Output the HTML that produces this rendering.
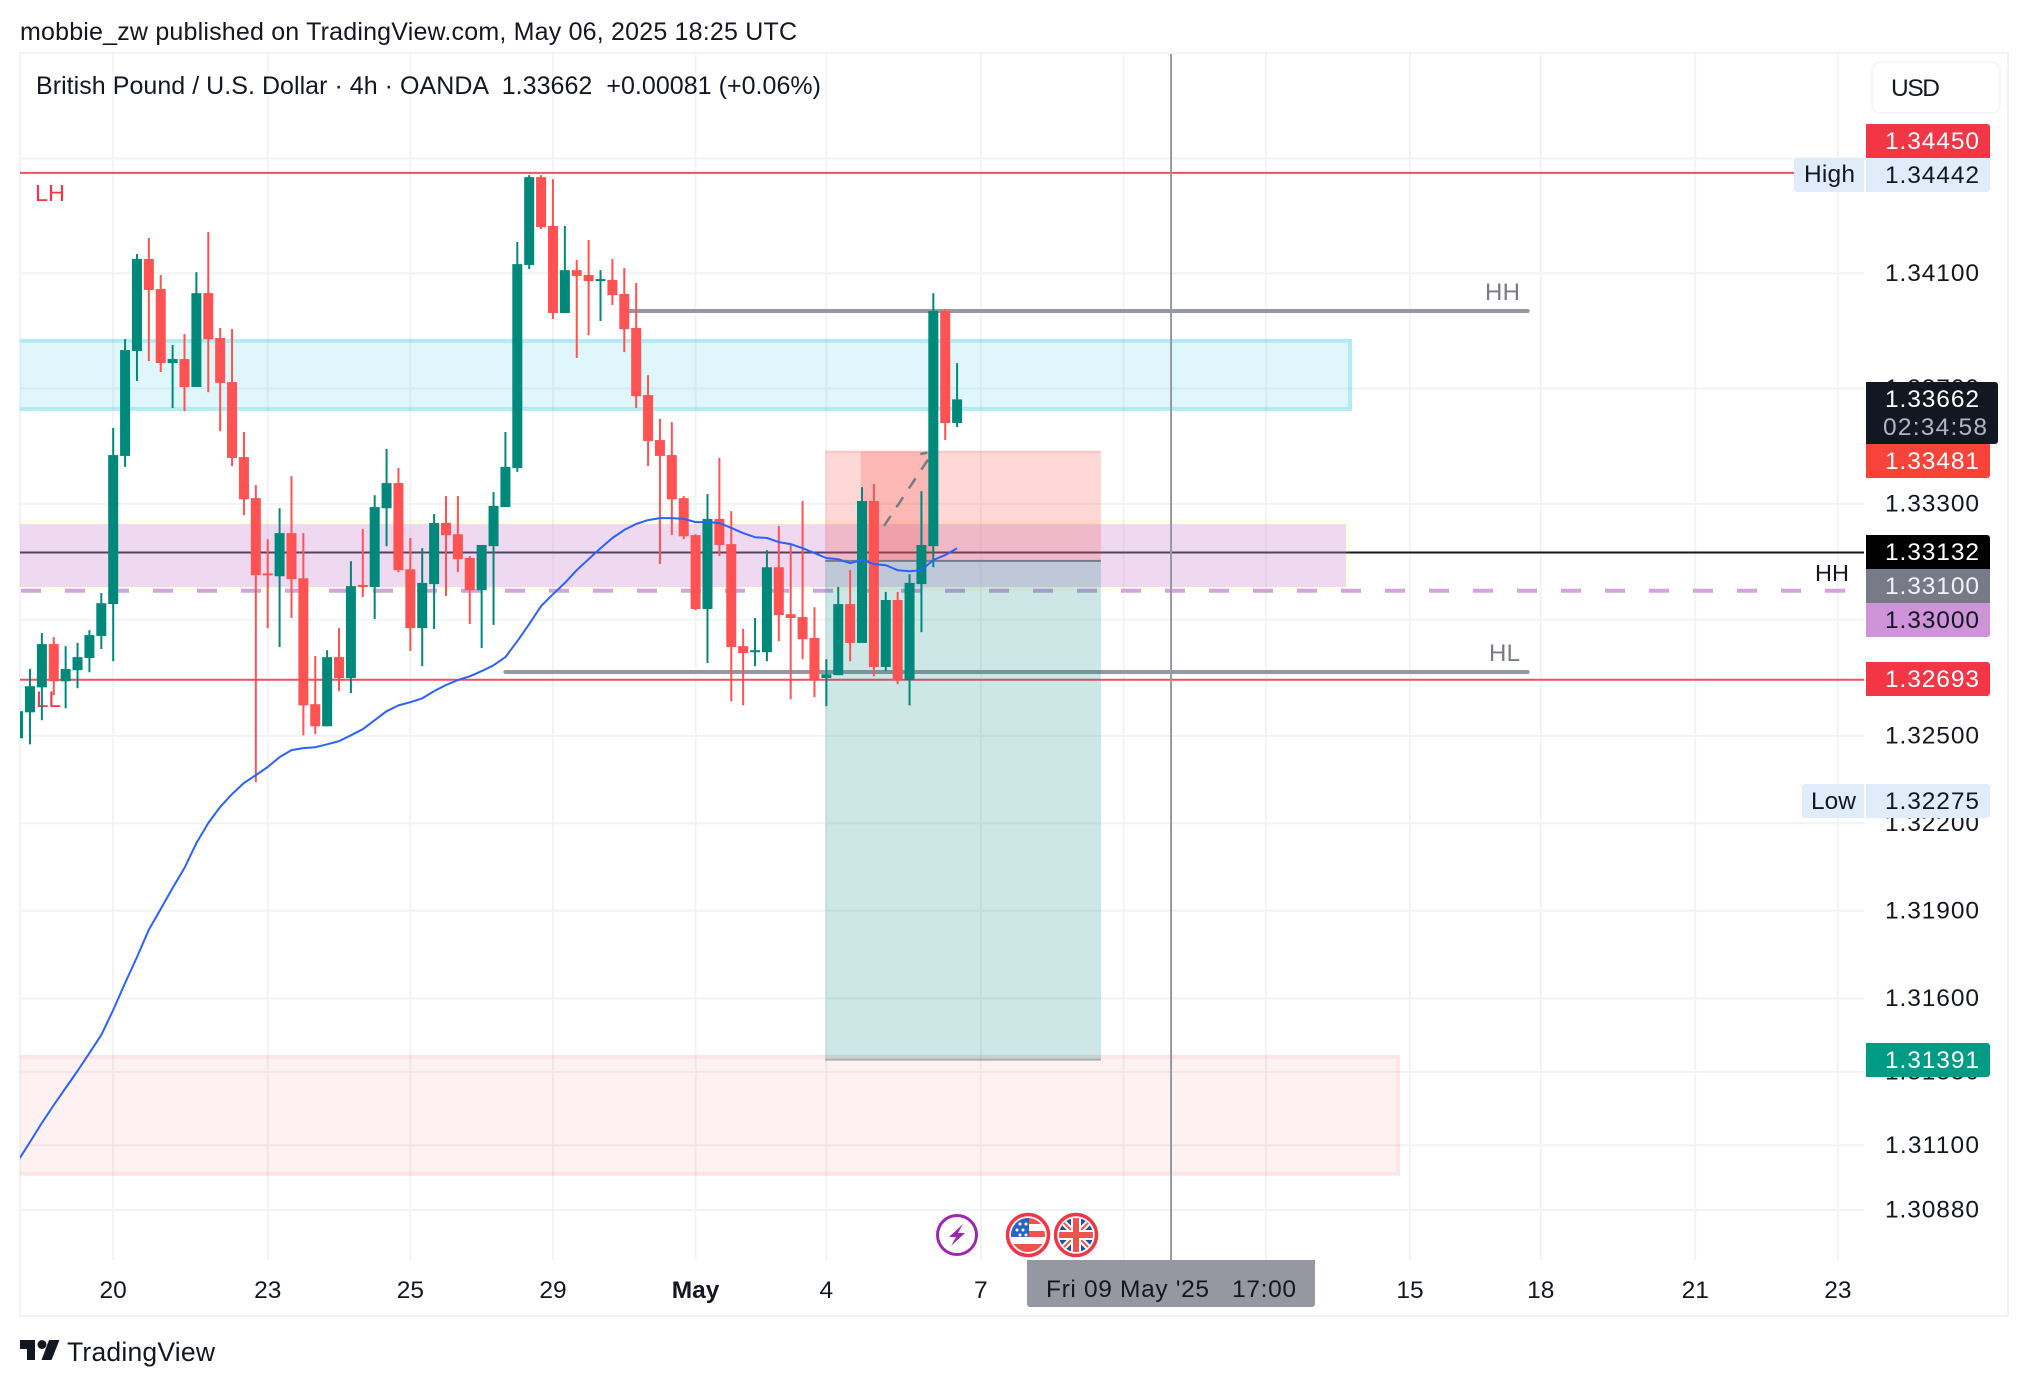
<!DOCTYPE html>
<html lang="en">
<head>
<meta charset="utf-8">
<title>GBPUSD 4h chart</title>
<style>
html,body{margin:0;padding:0;background:#fff;width:2028px;height:1386px;overflow:hidden}
svg{display:block}
text{font-family:"Liberation Sans",sans-serif;white-space:pre}
</style>
</head>
<body>
<svg id="chart" xmlns="http://www.w3.org/2000/svg" width="2028" height="1386" viewBox="0 0 2028 1386">
  <defs>
    <clipPath id="plot-clip"><rect x="20" y="54" width="1844" height="1206"/></clipPath>
    <clipPath id="us-clip"><circle cx="1028" cy="1235" r="17"/></clipPath>
    <clipPath id="uk-clip"><circle cx="1076" cy="1235" r="17"/></clipPath>
  </defs>
  <rect x="0" y="0" width="2028" height="1386" fill="#ffffff"/>
  <text x="20" y="40" font-size="25" fill="#131722" textLength="777">mobbie_zw published on TradingView.com, May 06, 2025 18:25 UTC</text>
  <g id="grid"></g>
  <rect x="20" y="53" width="1988" height="1263" fill="none" stroke="#f2f3f4" stroke-width="2"/>
  <g clip-path="url(#plot-clip)">
    <g id="levels-under"></g>
    <g id="zones"></g>
    <g id="levels"></g>
    <text x="35" y="201" font-size="23.5" fill="#f23645" textLength="30">LH</text>
    <text x="36" y="707" font-size="22.5" fill="#f23645" textLength="25">LL</text>
    <text x="1485" y="300" font-size="24" fill="#787b86" textLength="35">HH</text>
    <text x="1489" y="661" font-size="24" fill="#787b86" textLength="31">HL</text>
    <text x="1815" y="581" font-size="23.5" fill="#131722" textLength="34">HH</text>
    <g id="position"></g>
    <g id="candles"></g>
    <path id="ma-line" fill="none" stroke="#2962ff" stroke-width="2" stroke-linejoin="round"/>
    <line id="crosshair" y1="54" y2="1260" stroke="#9598a1" stroke-width="2"/>
  </g>
  <text x="36" y="94" font-size="25" fill="#131722" textLength="785">British Pound / U.S. Dollar · 4h · OANDA  1.33662  +0.00081 (+0.06%)</text>

  <g id="price-ticks"></g>
  <g id="time-ticks"></g>

  <g>
    <rect x="1872" y="62" width="128" height="51" rx="9" fill="#ffffff" stroke="#f0f3fa" stroke-width="1.5"/>
    <text x="1891" y="96" font-size="24.5" fill="#131722" textLength="49">USD</text>
  </g>

  <g font-size="24.5">
    <path d="M1866 124H1987a3 3 0 0 1 3 3V158H1866Z" fill="#f23645"/>
    <text x="1885" y="148.800" fill="#ffffff" textLength="94">1.34450</text>
    <path d="M1797 158H1864V192H1797a3 3 0 0 1 -3 -3V161a3 3 0 0 1 3 -3Z" fill="#e1ecfb"/>
    <text x="1804" y="182" fill="#131722" textLength="51">High</text>
    <path d="M1866 158H1990V189a3 3 0 0 1 -3 3H1866Z" fill="#e1ecfb"/>
    <text x="1885" y="182.800" fill="#131722" textLength="94">1.34442</text>

    <path d="M1866 382H1995a3 3 0 0 1 3 3V441a3 3 0 0 1 -3 3H1866Z" fill="#131722"/>
    <text x="1885" y="406.800" fill="#ffffff" textLength="94">1.33662</text>
    <text x="1883" y="435" fill="#b2b5be" textLength="104">02:34:58</text>
    <path d="M1866 444H1990V475a3 3 0 0 1 -3 3H1866Z" fill="#f7433a"/>
    <text x="1885" y="468.800" fill="#ffffff" textLength="94">1.33481</text>

    <path d="M1866 535H1987a3 3 0 0 1 3 3V569H1866Z" fill="#000000"/>
    <text x="1885" y="559.800" fill="#ffffff" textLength="94">1.33132</text>
    <rect x="1866" y="569" width="124" height="34" fill="#787b86"/>
    <text x="1885" y="593.800" fill="#f0f3fa" textLength="94">1.33100</text>
    <path d="M1866 603H1990V634a3 3 0 0 1 -3 3H1866Z" fill="#ce93d8"/>
    <text x="1885" y="627.800" fill="#131722" textLength="94">1.33000</text>
    <rect x="1866" y="662" width="124" height="34" rx="3" fill="#f23645"/>
    <rect x="1866" y="662" width="10" height="34" fill="#f23645"/>
    <text x="1885" y="686.800" fill="#ffffff" textLength="94">1.32693</text>

    <path d="M1805 784H1864V818H1805a3 3 0 0 1 -3 -3V787a3 3 0 0 1 3 -3Z" fill="#e1ecfb"/>
    <text x="1811" y="809" fill="#131722" textLength="45">Low</text>
    <path d="M1866 784H1987a3 3 0 0 1 3 3V815a3 3 0 0 1 -3 3H1866Z" fill="#e1ecfb"/>
    <text x="1885" y="808.800" fill="#131722" textLength="94">1.32275</text>
    <path d="M1866 1043H1987a3 3 0 0 1 3 3V1074a3 3 0 0 1 -3 3H1866Z" fill="#009b85"/>
    <text x="1885" y="1067.800" fill="#ffffff" textLength="94">1.31391</text>
  </g>

  <g>
    <path d="M1027 1260H1315V1304a3 3 0 0 1 -3 3H1030a3 3 0 0 1 -3 -3Z" fill="#9598a1"/>
    <text x="1046" y="1297" font-size="24.5" fill="#131722" textLength="250">Fri 09 May '25   17:00</text>
  </g>

  <g>
    <circle cx="957" cy="1235" r="19.500" fill="#ffffff" stroke="#9c27b0" stroke-width="3"/>
    <polygon points="963,1224 949,1237 956,1237 951,1246 965,1233 958,1233" fill="#9c27b0"/>
  </g>
  <g>
    <circle cx="1028" cy="1235" r="20.500" fill="#ffffff" stroke="#f23645" stroke-width="3.500"/>
    <g clip-path="url(#us-clip)">
      <rect x="1010" y="1218" width="36" height="6" fill="#ef5350"/>
      <rect x="1010" y="1231" width="36" height="6" fill="#ef5350"/>
      <rect x="1010" y="1244" width="36" height="9" fill="#ef5350"/>
      <rect x="1010" y="1218" width="19" height="19" fill="#2962c8"/>
      <circle cx="1020" cy="1224" r="1.500" fill="#fff"/>
      <circle cx="1026" cy="1224" r="1.500" fill="#fff"/>
      <circle cx="1017" cy="1230" r="1.500" fill="#fff"/>
      <circle cx="1023" cy="1230" r="1.500" fill="#fff"/>
      <circle cx="1020" cy="1235" r="1.500" fill="#fff"/>
      <circle cx="1026" cy="1235" r="1.500" fill="#fff"/>
    </g>
  </g>
  <g>
    <circle cx="1076" cy="1235" r="20.500" fill="#ffffff" stroke="#f23645" stroke-width="3.500"/>
    <g clip-path="url(#uk-clip)">
      <rect x="1058" y="1217" width="36" height="36" fill="#1e4fa3"/>
      <line x1="1058" y1="1217" x2="1094" y2="1253" stroke="#fff" stroke-width="6"/>
      <line x1="1094" y1="1217" x2="1058" y2="1253" stroke="#fff" stroke-width="6"/>
      <line x1="1058" y1="1217" x2="1094" y2="1253" stroke="#ef5350" stroke-width="2"/>
      <line x1="1094" y1="1217" x2="1058" y2="1253" stroke="#ef5350" stroke-width="2"/>
      <rect x="1071" y="1217" width="10" height="36" fill="#fff"/>
      <rect x="1058" y="1230" width="36" height="10" fill="#fff"/>
      <rect x="1073" y="1217" width="6" height="36" fill="#ef5350"/>
      <rect x="1058" y="1232" width="36" height="6" fill="#ef5350"/>
    </g>
  </g>

  <g>
    <path d="M20 1340H35V1360H27V1349H20Z" fill="#131722"/>
    <circle cx="42" cy="1344.500" r="4.500" fill="#131722"/>
    <polygon points="49,1340 59.500,1340 51.500,1360 41.500,1360" fill="#131722"/>
    <text x="67" y="1361" font-size="26.500" fill="#131722" textLength="148">TradingView</text>
  </g>
</svg>
<script>
// ---- chart data ----
const opens = [1.32492,1.32581,1.32667,1.32816,1.32688,1.32726,1.32768,1.32844,1.32954,1.33466,
1.33830,1.34150,1.34045,1.33788,1.33802,1.33705,1.34031,1.33875,1.33722,1.33462,
1.33320,1.33060,1.33050,1.33199,1.33043,1.32609,1.32533,1.32771,1.32699,1.33020,
1.33013,1.33285,1.33372,1.33074,1.32871,1.33023,1.33234,1.33195,1.33113,1.33002,
1.33154,1.33289,1.33424,1.34129,1.34435,1.34265,1.33962,1.34111,1.34094,1.34073,
1.34077,1.34028,1.33910,1.33677,1.33521,1.33469,1.33320,1.33192,1.32937,1.33248,
1.33161,1.32809,1.32788,1.32788,1.33081,1.32919,1.32909,1.32837,1.32699,1.32709,
1.32954,1.32820,1.33310,1.32737,1.32968,1.32692,1.33023,1.33154,1.33969,1.33580];
const highs = [1.32600,1.32730,1.32854,1.32840,1.32809,1.32820,1.32864,1.32992,1.33563,1.33871,
1.34167,1.34223,1.34094,1.33851,1.33889,1.34104,1.34244,1.33910,1.33906,1.33549,
1.33365,1.33178,1.33285,1.33396,1.33199,1.32775,1.32795,1.32871,1.33102,1.33213,
1.33330,1.33490,1.33424,1.33182,1.33147,1.33265,1.33327,1.33327,1.33120,1.33158,
1.33341,1.33549,1.34209,1.34442,1.34442,1.34428,1.34265,1.34146,1.34216,1.34111,
1.34150,1.34118,1.34066,1.33746,1.33594,1.33583,1.33327,1.33195,1.33334,1.33459,
1.33275,1.32868,1.32906,1.33140,1.33224,1.33158,1.33310,1.32943,1.32764,1.33013,
1.33071,1.33358,1.33369,1.32996,1.32996,1.33057,1.33344,1.34031,1.33976,1.33788];
const lows = [1.32480,1.32471,1.32554,1.32640,1.32595,1.32664,1.32719,1.32799,1.32757,1.33428,
1.33726,1.33795,1.33757,1.33632,1.33621,1.33705,1.33687,1.33552,1.33431,1.33261,
1.32341,1.32871,1.32806,1.32906,1.32502,1.32506,1.32533,1.32654,1.32647,1.32978,
1.32902,1.33154,1.33064,1.32792,1.32740,1.32868,1.32982,1.33064,1.32885,1.32802,
1.32882,1.33289,1.33411,1.34115,1.34254,1.33941,1.33962,1.33806,1.33885,1.33934,
1.33990,1.33826,1.33632,1.33431,1.33092,1.33192,1.33178,1.32933,1.32751,1.33120,
1.32619,1.32605,1.32740,1.32757,1.32826,1.32626,1.32764,1.32633,1.32602,1.32709,
1.32757,1.32820,1.32705,1.32723,1.32678,1.32605,1.32857,1.33081,1.33521,1.33566];
const closes = [1.32585,1.32671,1.32816,1.32688,1.32730,1.32771,1.32847,1.32957,1.33469,1.33833,
1.34150,1.34042,1.33788,1.33802,1.33705,1.34031,1.33871,1.33719,1.33459,1.33316,
1.33054,1.33054,1.33199,1.33040,1.32605,1.32533,1.32771,1.32699,1.33016,1.33013,
1.33289,1.33372,1.33071,1.32871,1.33027,1.33234,1.33192,1.33109,1.33002,1.33158,
1.33293,1.33428,1.34132,1.34435,1.34261,1.33962,1.34111,1.34091,1.34073,1.34080,
1.34024,1.33906,1.33673,1.33518,1.33466,1.33316,1.33188,1.32937,1.33248,1.33158,
1.32806,1.32785,1.32795,1.33081,1.32916,1.32906,1.32833,1.32695,1.32712,1.32954,
1.32820,1.33310,1.32737,1.32968,1.32692,1.33027,1.33158,1.33969,1.33580,1.33662];
const maValues = [1.31047,1.31111,1.31176,1.31237,1.31295,1.31353,1.31414,1.31476,1.31561,1.31653,
1.31742,1.31835,1.31906,1.31978,1.32047,1.32132,1.32201,1.32256,1.32300,1.32338,
1.32365,1.32393,1.32427,1.32451,1.32458,1.32461,1.32471,1.32482,1.32502,1.32523,
1.32554,1.32585,1.32605,1.32616,1.32629,1.32654,1.32675,1.32692,1.32705,1.32723,
1.32743,1.32771,1.32826,1.32885,1.32947,1.32988,1.33027,1.33071,1.33109,1.33147,
1.33182,1.33210,1.33231,1.33244,1.33251,1.33251,1.33248,1.33237,1.33237,1.33234,
1.33217,1.33199,1.33185,1.33182,1.33168,1.33161,1.33147,1.33130,1.33113,1.33109,
1.33095,1.33106,1.33092,1.33088,1.33071,1.33067,1.33071,1.33106,1.33123,1.33147];
const priceTicks = [1.345,1.341,1.337,1.333,1.329,1.325,1.322,1.319,1.316,1.3135,1.311,1.3088];
const priceTickLabels = ['1.34500','1.34100','1.33700','1.33300','1.32900','1.32500','1.32200','1.31900','1.31600','1.31350','1.31100','1.30880'];
const timeTickBars = [8,21,33,45,57,68,81,93,105,117.1,128.1,141.1,153.1];
const timeTickLabels = ['20','23','25','29','May','4','7','9','13','15','18','21','23'];
const cyanZonePrices = [1.33865,1.33629];
const purpleZonePrices = [1.33237,1.33006];
const pinkZonePrices = [1.31401,1.31003];
const zoneEndBars = [112.06,111.9,116.1];
const redLevelPrices = [1.3445,1.32693];
const blackLevelPrice = 1.33132;
const dashedLevelPrice = 1.33;
const swingHighPrice = 1.33969;
const swingLowPrice = 1.3272;
const swingBars = [51.4,41,127];
const positionPrices = [1.33481,1.33103,1.31391];
const positionBars = [67.9,91.1];
const pnlBars = [70.9,77];
const crosshairBar = 97;

// ---- axis functions ----
function xOf(bar){ return 18.1 + 11.886*bar; }
function yOf(price){ return 273.3 + 38539*Math.log(1.341/price); }

const NS = 'http://www.w3.org/2000/svg';
function make(tag, parentId, attrs){
  const el = document.createElementNS(NS, tag);
  for (const k in attrs) el.setAttribute(k, attrs[k]);
  document.getElementById(parentId).appendChild(el);
  return el;
}
const PLOT_L = 20, PLOT_R = 1864, PLOT_B = 1260, PLOT_T = 54;

// grid
priceTicks.forEach(function(p){
  const el = make('line','grid',{x1:PLOT_L,x2:PLOT_R,y1:yOf(p),y2:yOf(p),stroke:'#f2f3f4','stroke-width':2});
  
  
});
timeTickBars.forEach(function(b){
  const el = make('line','grid',{x1:xOf(b),x2:xOf(b),y1:PLOT_T,y2:PLOT_B,stroke:'#f2f3f4','stroke-width':2});
  
  
});

// price axis labels
priceTicks.forEach(function(p,i){
  const el = make('text','price-ticks',{x:1885,y:yOf(p)+7.6,'font-size':24.5,fill:'#131722',textLength:94});
  el.textContent = priceTickLabels[i];
  
  
});

// time axis labels
timeTickBars.forEach(function(b,i){
  const el = make('text','time-ticks',{x:xOf(b),y:1298,'font-size':24.5,fill:'#131722','text-anchor':'middle'});
  el.textContent = timeTickLabels[i];
  if (timeTickLabels[i]==='May') el.setAttribute('font-weight','bold');
  
  
});

// zones: fill sits inside a 4px outer border
function drawZoneFill(prices,endBar,fill){
  const top = yOf(prices[0])+2, bot = yOf(prices[1])-2;
  return make('rect','zones',{x:PLOT_L-4,y:top,width:xOf(endBar)-PLOT_L+2,height:bot-top,fill:fill});
}
function drawZoneBorder(prices,endBar,stroke){
  const top = yOf(prices[0]), bot = yOf(prices[1]);
  return make('rect','zones',{x:PLOT_L-6,y:top,width:xOf(endBar)-PLOT_L+6,height:bot-top,fill:'none',stroke:stroke,'stroke-width':4});
}
const cyanFill = drawZoneFill(cyanZonePrices,zoneEndBars[0],'rgba(0,188,212,.125)');


const cyanBorder = drawZoneBorder(cyanZonePrices,zoneEndBars[0],'rgba(0,188,212,.3)');


const purpleFill = drawZoneFill(purpleZonePrices,zoneEndBars[1],'rgba(206,147,216,.35)');


const purpleBorder = drawZoneBorder(purpleZonePrices,zoneEndBars[1],'rgba(255,235,59,.1)');


const pinkFill = drawZoneFill(pinkZonePrices,zoneEndBars[2],'rgba(242,54,69,.07)');


const pinkBorder = drawZoneBorder(pinkZonePrices,zoneEndBars[2],'rgba(242,54,69,.13)');



// horizontal levels
const blackLine = make('line','levels-under',{x1:PLOT_L,x2:PLOT_R,y1:yOf(blackLevelPrice),y2:yOf(blackLevelPrice),stroke:'#131722','stroke-width':2});


redLevelPrices.forEach(function(p){
  const el = make('line','levels',{x1:PLOT_L,x2:PLOT_R,y1:yOf(p),y2:yOf(p),stroke:'#f0505f','stroke-width':2});
  
  
});
const dashedLine = make('line','levels',{x1:21,x2:1850,y1:yOf(dashedLevelPrice),y2:yOf(dashedLevelPrice),stroke:'#d4a2dc','stroke-width':4,'stroke-dasharray':'20 24'});


const hhLine = make('line','levels',{x1:xOf(swingBars[0]),x2:xOf(swingBars[2]),y1:yOf(swingHighPrice),y2:yOf(swingHighPrice),stroke:'#9598a1','stroke-width':4,'stroke-linecap':'round'});


const hlLine = make('line','levels',{x1:xOf(swingBars[1]),x2:xOf(swingBars[2]),y1:yOf(swingLowPrice),y2:yOf(swingLowPrice),stroke:'#9598a1','stroke-width':4,'stroke-linecap':'round'});



// short position tool
const pLeft = xOf(positionBars[0]), pRight = xOf(positionBars[1]);
const yStop = yOf(positionPrices[0]), yEntry = yOf(positionPrices[1]), yTarget = yOf(positionPrices[2]);
const stopRect = make('rect','position',{x:pLeft,y:yStop,width:pRight-pLeft,height:yEntry-yStop,fill:'rgba(247,60,50,.2)'});


const targetRect = make('rect','position',{x:pLeft,y:yEntry,width:pRight-pLeft,height:yTarget-yEntry,fill:'rgba(0,137,123,.2)'});


const pnlRect = make('rect','position',{x:xOf(pnlBars[0]),y:yStop,width:xOf(pnlBars[1])-xOf(pnlBars[0]),height:yEntry-yStop,fill:'rgba(247,60,50,.2)'});


const stopEdge = make('line','position',{x1:pLeft,x2:pRight,y1:yStop,y2:yStop,stroke:'rgba(242,54,69,.2)','stroke-width':2});


const entryLine = make('line','position',{x1:pLeft,x2:pRight,y1:yEntry,y2:yEntry,stroke:'#787b86','stroke-width':2});


const targetEdge = make('line','position',{x1:pLeft,x2:pRight,y1:yTarget,y2:yTarget,stroke:'rgba(120,123,134,.5)','stroke-width':2});


const pnlPath = make('line','position',{x1:xOf(pnlBars[0]),y1:yEntry,x2:xOf(pnlBars[1]),y2:yStop,stroke:'#787b86','stroke-width':2.5,'stroke-dasharray':'12 10.5','stroke-dashoffset':3});


const pnlBarb = make('line','position',{x1:xOf(pnlBars[1])-13,y1:yStop+2.5,x2:xOf(pnlBars[1])-6,y2:yStop+1,stroke:'#787b86','stroke-width':2.5});



// candles
for (let i = 0; i < opens.length; i++) {
  const up = closes[i] >= opens[i];
  const col = up ? '#00897b' : '#ff5252';
  const cx = xOf(i);
  const wick = make('rect','candles',{x:cx-1,y:yOf(highs[i]),width:2,height:yOf(lows[i])-yOf(highs[i]),fill:col});
  
  
  const top = yOf(Math.max(opens[i],closes[i]));
  const bot = yOf(Math.min(opens[i],closes[i]));
  const body = make('rect','candles',{x:cx-5,y:top,width:10,height:Math.max(bot-top,2),fill:col});
  
  
}

// moving average
document.getElementById('ma-line').setAttribute('d', maValues.map(function(v,i){
  return (i?'L':'M') + xOf(i).toFixed(1) + ' ' + yOf(v).toFixed(1);
}).join(' '));

// crosshair
const ch = document.getElementById('crosshair');
ch.setAttribute('x1', xOf(crosshairBar));
ch.setAttribute('x2', xOf(crosshairBar));
</script>
</body>
</html>
